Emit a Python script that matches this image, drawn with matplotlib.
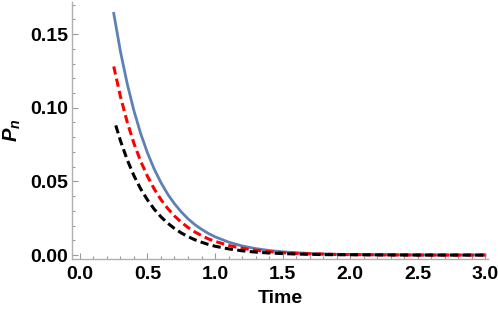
import matplotlib
matplotlib.use("Agg")
import matplotlib.pyplot as plt
from matplotlib.ticker import MultipleLocator, FormatStrFormatter

# values
time = [0.25, 0.30, 0.35, 0.40, 0.45, 0.50, 0.55, 0.60, 0.65, 0.70, 0.75,
        0.80, 0.85, 0.90, 0.95, 1.00, 1.1, 1.2, 1.3, 1.4, 1.5, 1.6, 1.7,
        1.8, 1.9, 2.0, 2.25, 2.5, 2.75, 3.0]

p_blue = [0.1640, 0.1380, 0.1162, 0.0978, 0.0823, 0.0693, 0.0583, 0.0491,
          0.0413, 0.0348, 0.0293, 0.0246, 0.0207, 0.0175, 0.0147, 0.0124,
          0.0088, 0.0062, 0.0044, 0.0031, 0.0022, 0.0016, 0.0011, 0.0008,
          0.0005, 0.0004, 0.0002, 0.0001, 0.0000, 0.0000]

p_red = [0.1280, 0.1075, 0.0902, 0.0757, 0.0636, 0.0534, 0.0448, 0.0376,
         0.0316, 0.0265, 0.0223, 0.0187, 0.0157, 0.0132, 0.0110, 0.0093,
         0.0065, 0.0046, 0.0033, 0.0023, 0.0016, 0.0011, 0.0008, 0.0006,
         0.0004, 0.0003, 0.0001, 0.0000, 0.0000, 0.0000]

time_black = [0.265, 0.30, 0.35, 0.40, 0.45, 0.50, 0.55, 0.60, 0.65, 0.70,
              0.75, 0.80, 0.85, 0.90, 0.95, 1.00, 1.1, 1.2, 1.3, 1.4, 1.5,
              1.6, 1.7, 1.8, 1.9, 2.0, 2.25, 2.5, 2.75, 3.0]
p_black = [0.0880, 0.0775, 0.0646, 0.0538, 0.0448, 0.0374, 0.0311, 0.0259,
           0.0216, 0.0180, 0.0150, 0.0125, 0.0104, 0.0087, 0.0072, 0.0060,
           0.0042, 0.0029, 0.0020, 0.0014, 0.0010, 0.0007, 0.0005, 0.0003,
           0.0002, 0.0002, 0.0001, 0.0000, 0.0000, 0.0000]

plt.rcParams['font.family'] = ['Liberation Sans', 'DejaVu Sans']
plt.rcParams['mathtext.fontset'] = 'custom'
plt.rcParams['mathtext.it'] = 'Liberation Sans:italic:bold'
plt.rcParams['mathtext.rm'] = 'Liberation Sans:bold'

fig = plt.figure(figsize=(4.98, 3.19), dpi=100)
ax = fig.add_axes([0.1446, 0.188, 0.8354, 0.806])

ax.plot(time, p_blue, color='#5E81B5', lw=2.0)
ax.plot(time, p_red, color='red', lw=2.2, dashes=(2.7, 1.4))
ax.plot(time_black, p_black, color='black', lw=2.2, dashes=(2.7, 1.4))

ax.set_xlim(-0.059, 3.022)
ax.set_ylim(-0.0027, 0.1718)

ax.xaxis.set_major_locator(MultipleLocator(0.5))
ax.xaxis.set_minor_locator(MultipleLocator(0.1))
ax.yaxis.set_major_locator(MultipleLocator(0.05))
ax.yaxis.set_minor_locator(MultipleLocator(0.01))
ax.xaxis.set_major_formatter(FormatStrFormatter('%.1f'))
ax.yaxis.set_major_formatter(FormatStrFormatter('%.2f'))

for s in ['top', 'right']:
    ax.spines[s].set_visible(False)
for s in ['left', 'bottom']:
    ax.spines[s].set_color('#b0b0b0')
    ax.spines[s].set_linewidth(1.0)

ax.tick_params(which='both', direction='in', color='#999999', width=0.8)
ax.tick_params(which='major', length=4.5)
ax.tick_params(which='minor', length=2.5)
ax.tick_params(axis='x', which='major', pad=5)
ax.tick_params(axis='y', which='major', pad=3)
for lab in ax.get_xticklabels() + ax.get_yticklabels():
    lab.set_fontweight('bold')
    lab.set_fontsize(14)

ax.set_xlabel('Time', fontsize=14, fontweight='bold', labelpad=5)
ax.set_ylabel(r'$P_n$', fontsize=14.5, labelpad=5)

fig.savefig('out.png', dpi=100)
